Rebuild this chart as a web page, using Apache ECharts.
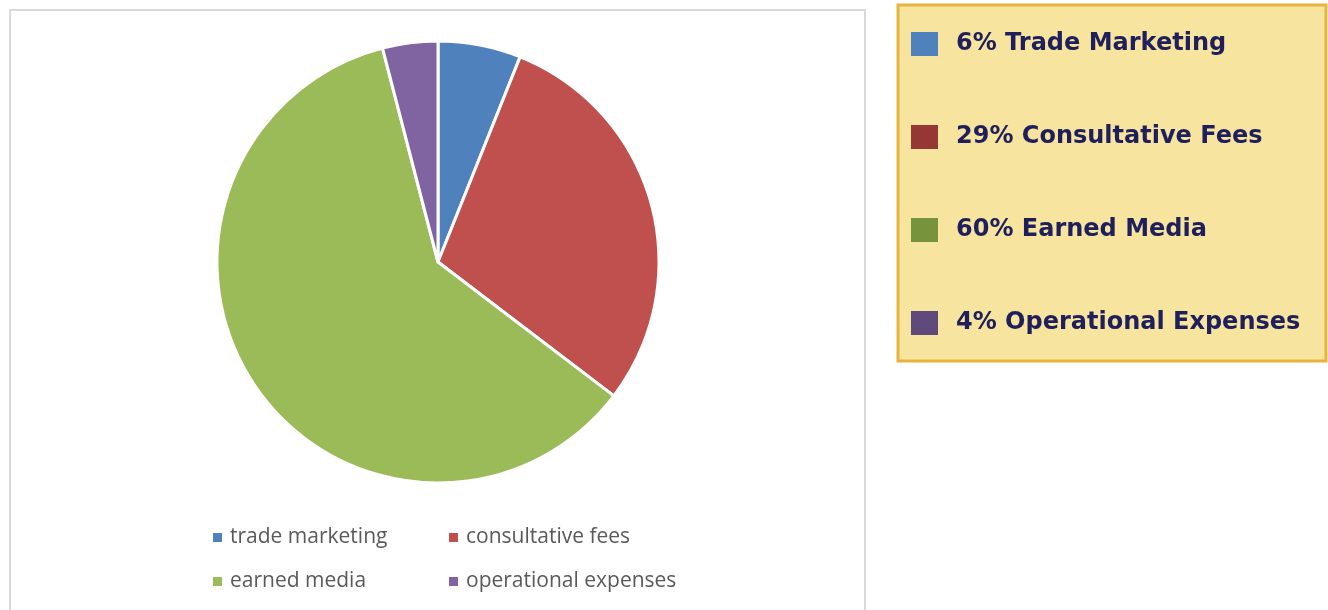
<!DOCTYPE html>
<html>
<head>
<meta charset="utf-8">
<script src="https://cdn.jsdelivr.net/npm/echarts@6/dist/echarts.min.js"></script>
<style>html,body{margin:0;padding:0;background:#fff;}#main{width:1328px;height:610px;}</style>
</head>
<body>
<div id="main"></div>
<script>
const categories = ['trade marketing', 'consultative fees', 'earned media', 'operational expenses'];
const values = [6, 29, 60, 4];
const boxLabels = ['6% Trade Marketing', '29% Consultative Fees', '60% Earned Media', '4% Operational Expenses'];
const sliceColors = ['#4F81BD', '#C0504D', '#9BBB59', '#8064A2'];
const boxColors = ['#4F81BD', '#953735', '#77933C', '#604A7B'];

const chart = echarts.init(document.getElementById('main'));
const labelMap = {};
categories.forEach((c, i) => labelMap[c] = boxLabels[i]);

const smallLegend = (left, names) => ({
  orient: 'vertical', left: left, top: 522, itemWidth: 9, itemHeight: 9, itemGap: 23,
  icon: 'rect', selectedMode: false,
  data: names.map(n => ({ name: n, itemStyle: { borderWidth: 0 } })),
  textStyle: { fontFamily: 'Open Sans', fontSize: 21, color: '#595959', padding: [0, 0, 0, 3] }
});

chart.setOption({
  animation: false,
  color: sliceColors,
  graphic: [
    { type: 'rect', shape: { x: 10, y: 10, width: 855, height: 620 }, style: { fill: 'none', stroke: '#D9D9D9', lineWidth: 2 }, z: 0 },
    { type: 'rect', shape: { x: 898, y: 5, width: 428, height: 356 }, style: { fill: '#F7E59F', stroke: '#E6B43E', lineWidth: 3 }, z: 0 }
  ],
  legend: [
    smallLegend(208, [categories[0], categories[2]]),
    smallLegend(444, [categories[1], categories[3]]),
    {
      orient: 'vertical', left: 906, top: 27, itemWidth: 27, itemHeight: 24, itemGap: 69,
      icon: 'rect',
      data: categories.map((c, i) => ({ name: c, itemStyle: { color: boxColors[i], borderWidth: 0 } })),
      formatter: n => labelMap[n],
      selectedMode: false,
      textStyle: { fontFamily: 'DejaVu Sans', fontWeight: 'bold', fontSize: 24, color: '#1F1F5C', padding: [0, 0, 0, 13] }
    }
  ],
  series: [{
    type: 'pie',
    center: [438, 262],
    radius: 221,
    startAngle: 90,
    clockwise: true,
    label: { show: false },
    labelLine: { show: false },
    itemStyle: { borderColor: '#ffffff', borderWidth: 3 },
    data: categories.map((c, i) => ({ name: c, value: values[i] }))
  }]
});
</script>
</body>
</html>
